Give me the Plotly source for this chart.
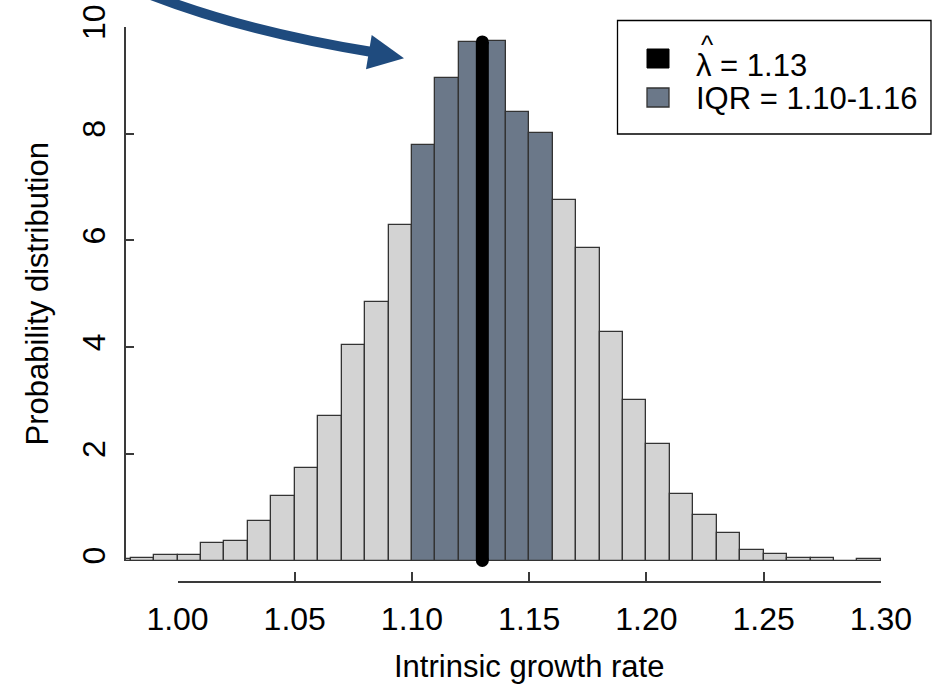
import plotly.graph_objects as go

# ---------------- data ----------------
bin_start = [0.97, 0.98, 0.99, 1.00, 1.01, 1.02, 1.03, 1.04, 1.05, 1.06, 1.07,
             1.08, 1.09, 1.10, 1.11, 1.12, 1.13, 1.14, 1.15, 1.16, 1.17, 1.18,
             1.19, 1.20, 1.21, 1.22, 1.23, 1.24, 1.25, 1.26, 1.27, 1.28, 1.29]
density = [0.03, 0.05, 0.10, 0.10, 0.32, 0.37, 0.74, 1.21, 1.73, 2.70, 4.04,
           4.85, 6.29, 7.78, 9.04, 9.71, 9.73, 8.40, 8.01, 6.76, 5.86, 4.29,
           3.01, 2.18, 1.25, 0.86, 0.52, 0.19, 0.13, 0.05, 0.05, 0.00, 0.03]
bin_width = 0.01
lambda_hat = 1.13
lambda_top = 9.72
iqr_low, iqr_high = 1.10, 1.16
x_ticks = [1.00, 1.05, 1.10, 1.15, 1.20, 1.25, 1.30]
y_ticks = [0, 2, 4, 6, 8, 10]
legend_labels = ["λ = 1.13", "IQR = 1.10-1.16"]

# ---------------- style ----------------
W, H = 932, 684
# plot area in page pixels
AREA_L, AREA_R, AREA_T, AREA_B = 125, 910, 8, 582
PW, PH = AREA_R - AREA_L, AREA_B - AREA_T
XR = [0.9776, 1.3124]
YR = [-(AREA_B - 560.5) / 53.35, 10 + (27 - AREA_T) / 53.35]
LIGHT = "#d3d3d3"
DARK = "#6b7889"
EDGE = "#333333"
AXC = "#3a3a3a"
ARROW = "#1f4b7e"
FONT = "Liberation Sans, Arial, sans-serif"
FS_TICK = 32
FS_TITLE = 31
FS_LEG = 31


def px(x):
    return (x - AREA_L) / PW


def py(y):
    return (AREA_B - y) / PH


def dx(v):
    return (v - XR[0]) / (XR[1] - XR[0])


def dy(v):
    return (v - YR[0]) / (YR[1] - YR[0])


colors = [DARK if iqr_low <= round(b, 2) < iqr_high else LIGHT for b in bin_start]

fig = go.Figure()
fig.add_trace(go.Bar(
    x=bin_start, y=density, width=bin_width, offset=0,
    marker=dict(color=colors, line=dict(color=EDGE, width=1.3)),
    showlegend=False, hoverinfo="skip"))
fig.add_trace(go.Scatter(
    x=[lambda_hat, lambda_hat], y=[0, lambda_top], mode="lines+markers",
    line=dict(color="black", width=13),
    marker=dict(color="black", size=13, symbol="circle", line=dict(width=0)),
    showlegend=False, hoverinfo="skip"))
# dummy trace so the displayed axes are drawn
fig.add_trace(go.Scatter(x=[None], y=[None], xaxis="x2", yaxis="y2",
                         showlegend=False, hoverinfo="skip"))

shapes = []
# curved arrow
p0, p1, p2 = (146, -7), (242, 31), (372, 52)
shapes.append(dict(type="path", xref="paper", yref="paper",
                   path=f"M {px(p0[0])},{py(p0[1])} Q {px(p1[0])},{py(p1[1])} {px(p2[0])},{py(p2[1])}",
                   line=dict(color=ARROW, width=10)))
t1, t2, t3 = (371.7, 35), (404, 58.3), (366, 69.3)
shapes.append(dict(type="path", xref="paper", yref="paper",
                   path=f"M {px(t1[0])},{py(t1[1])} L {px(t2[0])},{py(t2[1])} L {px(t3[0])},{py(t3[1])} Z",
                   fillcolor=ARROW, line=dict(width=0)))
# legend box
shapes.append(dict(type="rect", xref="paper", yref="paper",
                   x0=px(617.5), x1=px(931), y0=py(134), y1=py(20.5),
                   line=dict(color="black", width=1.3), fillcolor="white"))
shapes.append(dict(type="rect", xref="paper", yref="paper",
                   x0=px(647), x1=px(669), y0=py(68), y1=py(49),
                   line=dict(color="black", width=1), fillcolor="black"))
shapes.append(dict(type="rect", xref="paper", yref="paper",
                   x0=px(647), x1=px(669), y0=py(107), y1=py(88),
                   line=dict(color=EDGE, width=1.3), fillcolor=DARK))

annotations = [
    dict(xref="paper", yref="paper", x=px(694), y=py(66), text=legend_labels[0],
         showarrow=False, xanchor="left", yanchor="middle", font=dict(size=FS_LEG)),
    dict(xref="paper", yref="paper", x=px(707), y=py(45), text="^",
         showarrow=False, xanchor="center", yanchor="middle", font=dict(size=26)),
    dict(xref="paper", yref="paper", x=px(694), y=py(98), text=legend_labels[1],
         showarrow=False, xanchor="left", yanchor="middle", font=dict(size=FS_LEG)),
]

fig.update_layout(
    width=W, height=H,
    margin=dict(l=AREA_L, r=W - AREA_R, t=AREA_T, b=H - AREA_B, pad=0, autoexpand=False),
    paper_bgcolor="white", plot_bgcolor="rgba(0,0,0,0)",
    font=dict(family=FONT, size=FS_TICK, color="black"),
    bargap=0, showlegend=False,
    xaxis=dict(range=XR, visible=False, fixedrange=True, automargin=False),
    yaxis=dict(range=YR, visible=False, fixedrange=True, automargin=False),
    xaxis2=dict(domain=[dx(x_ticks[0]), dx(x_ticks[-1])], range=[x_ticks[0], x_ticks[-1]],
                anchor="free", position=0, showline=True, linecolor=AXC, linewidth=1.5,
                ticks="inside", ticklen=9, tickwidth=1.5, tickcolor=AXC,
                tickvals=x_ticks, tickformat=".2f", showgrid=False, zeroline=False,
                ticklabelstandoff=9, automargin=False, tickfont=dict(size=FS_TICK),
                ticklabeloverflow="allow",
                title=dict(text="Intrinsic growth rate", standoff=21,
                           font=dict(size=FS_TITLE, family=FONT)), fixedrange=True),
    yaxis2=dict(domain=[dy(y_ticks[0]), dy(y_ticks[-1])], range=[y_ticks[0], y_ticks[-1]],
                anchor="free", position=0, showline=True, linecolor=AXC, linewidth=1.5,
                ticks="inside", ticklen=8, tickwidth=1.5, tickcolor=AXC,
                tickvals=y_ticks, tickangle=-90, showgrid=False, zeroline=False,
                ticklabelstandoff=6, automargin=False, tickfont=dict(size=FS_TICK),
                ticklabeloverflow="allow",
                title=dict(text="Probability distribution", standoff=18,
                           font=dict(size=FS_TITLE, family=FONT)), fixedrange=True),
    shapes=shapes, annotations=annotations,
)

fig.write_html("out.html", config={"displayModeBar": False},
               post_script="document.body.style.margin='0';")
